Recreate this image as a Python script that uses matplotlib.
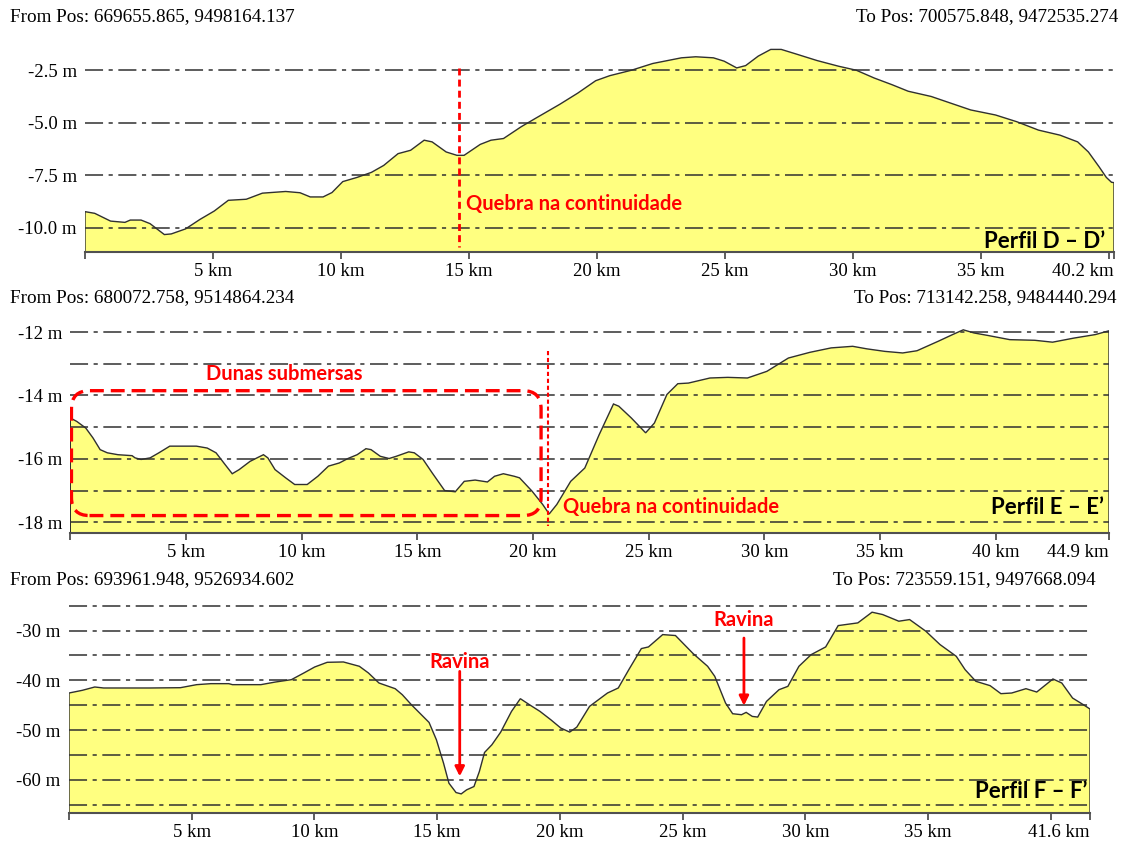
import numpy as np
import matplotlib
matplotlib.use('Agg')
import matplotlib.pyplot as plt
from matplotlib.patches import FancyBboxPatch

plt.rcParams['lines.scale_dashes'] = False

# Perfil D - D'
d_km = [0, 0.38, 1.0, 1.56, 1.77, 2.19, 2.54, 3.1, 3.37, 3.93, 4.49, 5.05, 5.6, 6.3, 6.93,
        7.84, 8.4, 8.8, 9.3, 9.65, 10.07, 10.63, 11.19, 11.67, 12.23, 12.72, 13.25, 13.56,
        14.11, 14.53, 14.81, 15.44, 15.86, 16.35, 17.04, 17.6, 18.55, 19.25, 19.95, 20.5,
        21.35, 22.18, 23.3, 23.86, 24.55, 24.97, 25.46, 25.81, 26.3, 26.79, 27.2, 27.76,
        28.6, 29.44, 30.13, 30.83, 31.53, 32.16, 33.06, 33.9, 34.6, 35.57, 36.4, 37.25,
        38.09, 38.78, 39.2, 39.62, 39.9, 40.1, 40.2]
d_m = [-9.23, -9.31, -9.68, -9.74, -9.63, -9.63, -9.8, -10.32, -10.29, -10.05, -9.6, -9.2,
       -8.69, -8.64, -8.35, -8.27, -8.33, -8.53, -8.53, -8.32, -7.8, -7.6, -7.36, -7.03,
       -6.47, -6.31, -5.83, -5.91, -6.39, -6.55, -6.55, -6.03, -5.83, -5.75, -5.19, -4.79,
       -4.12, -3.59, -3.0, -2.76, -2.5, -2.18, -1.91, -1.86, -1.91, -2.07, -2.39, -2.28,
       -1.83, -1.51, -1.51, -1.72, -2.04, -2.31, -2.5, -2.87, -3.19, -3.5, -3.75, -4.1,
       -4.39, -4.63, -4.95, -5.35, -5.59, -5.91, -6.39, -7.1, -7.6, -7.83, -7.85]

# Perfil E - E'
e_km = [0, 0.28, 0.67, 0.98, 1.29, 1.6, 2.06, 2.67, 2.8, 3.06, 3.45, 3.83, 4.3, 5.45, 5.92,
        6.3, 6.69, 7.0, 7.3, 7.77, 8.07, 8.35, 8.54, 8.85, 9.31, 9.7, 10.24, 10.7, 11.16,
        11.63, 12.0, 12.4, 12.78, 13.0, 13.4, 13.78, 14.09, 14.63, 14.87, 15.25, 15.64,
        16.18, 16.64, 17.03, 17.5, 18.03, 18.34, 18.72, 19.19, 19.42, 19.96, 20.42, 20.7,
        21.03, 21.63, 22.24, 22.86, 23.48, 23.71, 24.25, 24.87, 25.25, 25.79, 26.26, 26.72,
        27.65, 28.42, 29.27, 30.11, 31.04, 31.97, 32.89, 33.82, 34.43, 35.21, 35.98, 36.6,
        37.52, 38.14, 38.6, 39.07, 39.68, 40.61, 41.69, 42.46, 43.39, 44.31, 44.9]
e_m = [-14.71, -14.82, -15.03, -15.34, -15.71, -15.81, -15.87, -15.9, -15.97, -16.02, -15.97,
       -15.81, -15.6, -15.6, -15.66, -15.81, -16.18, -16.47, -16.34, -16.08, -15.97, -15.87,
       -15.97, -16.34, -16.6, -16.81, -16.81, -16.55, -16.23, -16.13, -15.99, -15.87, -15.68,
       -15.71, -15.92, -15.99, -15.92, -15.78, -15.81, -16.02, -16.44, -17.0, -17.04, -16.71,
       -16.67, -16.73, -16.55, -16.47, -16.55, -16.6, -17.02, -17.44, -17.74, -17.44, -16.71,
       -16.29, -15.24, -14.27, -14.34, -14.71, -15.18, -14.87, -13.97, -13.63, -13.61, -13.45,
       -13.43, -13.45, -13.24, -12.82, -12.64, -12.5, -12.45, -12.53, -12.61, -12.66, -12.59,
       -12.29, -12.08, -11.93, -12.03, -12.11, -12.24, -12.26, -12.32, -12.19, -12.08, -11.96]

# Perfil F - F'
f_km = [0, 0.54, 1.05, 1.41, 2.29, 3.3, 4.54, 5.2, 5.78, 6.51, 6.66, 7.82, 8.41, 9.06, 9.57,
        10.01, 10.52, 11.18, 11.83, 12.2, 12.63, 13.29, 13.58, 13.95, 14.67, 14.97, 15.26,
        15.48, 15.77, 15.98, 16.2, 16.5, 16.72, 16.93, 17.23, 17.59, 18.03, 18.39, 18.76,
        19.19, 19.63, 20.04, 20.4, 20.69, 21.21, 21.94, 22.38, 22.81, 23.32, 23.61, 24.19,
        24.71, 25.43, 26.02, 26.31, 26.75, 27.04, 27.4, 27.59, 27.84, 28.06, 28.42, 28.93,
        29.29, 29.74, 30.24, 30.83, 31.34, 32.14, 32.72, 33.15, 33.81, 34.25, 34.91, 35.49,
        36.15, 36.51, 36.95, 37.53, 37.97, 38.41, 38.99, 39.43, 40.09, 40.45, 40.89, 41.33, 41.6]
f_m = [-42.55, -42.01, -41.34, -41.54, -41.54, -41.54, -41.48, -40.87, -40.67, -40.67, -40.87,
       -40.87, -40.34, -39.87, -38.52, -37.32, -36.38, -36.31, -37.18, -38.52, -40.54, -41.68,
       -42.89, -44.9, -48.46, -51.95, -56.64, -60.67, -62.55, -62.82, -62.01, -61.34, -58.32,
       -54.5, -52.95, -50.4, -46.24, -43.69, -44.9, -46.24, -47.92, -49.6, -50.4, -49.4,
       -45.23, -42.55, -41.54, -37.85, -33.62, -33.29, -30.81, -31.0, -34.63, -37.18, -39.19,
       -44.56, -46.71, -46.91, -46.44, -47.25, -47.38, -44.23, -41.88, -41.21, -37.18, -34.83,
       -33.29, -29.0, -28.46, -26.31, -26.78, -28.12, -27.79, -30.13, -32.82, -35.17, -37.85,
       -40.2, -41.07, -42.68, -42.55, -41.68, -42.35, -39.73, -40.54, -43.56, -44.9, -45.77]

panels = [
    dict(km=d_km, m=d_m, end=40.2, ylim=(-11.15, -1.3),
         grid=[-2.5, -5.0, -7.5, -10.0], yticks=[-2.5, -5.0, -7.5, -10.0],
         ylabels=['-2.5 m', '-5.0 m', '-7.5 m', '-10.0 m'], lab40=False,
         box=(85, 45, 1114, 252), title="Perfil D \u2013 D\u2019", tpos=(39.84, -10.63),
         frm="From Pos: 669655.865, 9498164.137", to="To Pos: 700575.848, 9472535.274",
         hy=17, tox=1118),
    dict(km=e_km, m=e_m, end=44.9, ylim=(-18.34, -11.8),
         grid=[-12, -13, -14, -15, -16, -17, -18], yticks=[-12, -14, -16, -18],
         ylabels=['-12 m', '-14 m', '-16 m', '-18 m'], lab40=True,
         box=(70.3, 325.7, 1109, 533), title="Perfil E \u2013 E\u2019", tpos=(44.7, -17.52),
         frm="From Pos: 680072.758, 9514864.234", to="To Pos: 713142.258, 9484440.294",
         hy=298, tox=1117),
    dict(km=f_km, m=f_m, end=41.6, ylim=(-66.6, -24.0),
         grid=[-25, -30, -35, -40, -45, -50, -55, -60, -65], yticks=[-30, -40, -50, -60],
         ylabels=['-30 m', '-40 m', '-50 m', '-60 m'], lab40=False,
         box=(69, 600.7, 1090, 812.7), title="Perfil F \u2013 F\u2019", tpos=(41.5, -62.4),
         frm="From Pos: 693961.948, 9526934.602", to="To Pos: 723559.151, 9497668.094",
         hy=580, tox=1096),
]

W, H = 1121, 843
fig = plt.figure(figsize=(W / 100, H / 100), dpi=100)
serif = 'Liberation Serif'
sans = 'Lato'
axes = []

for p in panels:
    x0, y0, x1, y1 = p['box']
    ax = fig.add_axes([x0 / W, 1 - y1 / H, (x1 - x0) / W, (y1 - y0) / H])
    axes.append(ax)
    ybot = p['ylim'][0]
    xs = np.concatenate([[0], p['km'], [p['end']]])
    ys = np.concatenate([[ybot], p['m'], [ybot]])
    ax.fill(xs, ys, facecolor='#FFFF80', edgecolor='#303030', lw=1.0, zorder=1)
    for g in p['grid']:
        ax.axhline(g, color='#303030', lw=1.1, dashes=(13, 4, 3, 4), zorder=2)
    ax.set_xlim(0, p['end'])
    ax.set_ylim(*p['ylim'])
    for s in ['top', 'right', 'left']:
        ax.spines[s].set_visible(False)
    ax.spines['bottom'].set_color('#505050')
    ax.spines['bottom'].set_linewidth(1.5)
    ax.patch.set_alpha(0)

    ticks = list(range(0, 45, 5))
    ticks = [t for t in ticks if t < p['end']] + [p['end']]
    labels = []
    for t in ticks:
        if t == 0:
            labels.append('')
        elif t == p['end']:
            labels.append(f"{p['end']} km")
        elif t == 40 and not p['lab40']:
            labels.append('')
        else:
            labels.append(f"{t} km")
    ax.set_xticks(ticks)
    ax.set_xticklabels(labels, fontfamily=serif, fontsize=13.5)
    ax.get_xticklabels()[-1].set_horizontalalignment('right')
    ax.tick_params(axis='x', direction='out', length=5, width=1.3, color='#505050', pad=3)
    ax.set_yticks(p['yticks'])
    ax.set_yticklabels(p['ylabels'], fontfamily=serif, fontsize=13.5)
    ax.tick_params(axis='y', length=0, pad=6)

    ax.text(p['tpos'][0], p['tpos'][1], p['title'], ha='right', va='center',
            fontfamily=sans, fontweight='bold', fontsize=16, zorder=5)
    fig.text(10 / W, 1 - p['hy'] / H, p['frm'], ha='left', va='center',
             fontfamily=serif, fontsize=13.8)
    fig.text(p['tox'] / W, 1 - p['hy'] / H, p['to'], ha='right', va='center',
             fontfamily=serif, fontsize=13.8)

red = '#FF0000'

# anotacoes perfil D
ax = axes[0]
ax.plot([14.6, 14.6], [-2.4, -10.9], color=red, lw=2, dashes=(5, 3), zorder=4)
ax.text(14.88, -8.86, 'Quebra na continuidade', color=red, ha='left', va='center',
        fontfamily=sans, fontweight='bold', fontsize=14.5, zorder=5)

# anotacoes perfil E
ax = axes[1]
ax.plot([20.65, 20.65], [-12.6, -18.12], color=red, lw=1.5, dashes=(3, 2), zorder=4)
box = FancyBboxPatch((0.05, -17.79), 20.3, 3.94,
                     boxstyle='round,pad=0,rounding_size=0.78', mutation_aspect=0.73,
                     facecolor='none', edgecolor=red, lw=2.4, linestyle=(0, (10, 5)), zorder=4)
ax.add_patch(box)
ax.text(9.23, -13.32, 'Dunas submersas', color=red, ha='center', va='center',
        fontfamily=sans, fontweight='bold', fontsize=14.5, zorder=5)
ax.text(21.3, -17.53, 'Quebra na continuidade', color=red, ha='left', va='center',
        fontfamily=sans, fontweight='bold', fontsize=14.5, zorder=5)

# anotacoes perfil F
ax = axes[2]
for tx, ty, a0, a1 in [(15.92, -36.4, -38.2, -59.3), (27.5, -27.8, -31.5, -45.1)]:
    ax.text(tx, ty, 'Ravina', color=red, ha='center', va='center',
            fontfamily=sans, fontweight='bold', fontsize=14.5, zorder=5)
    ax.annotate('', xy=(tx, a1), xytext=(tx, a0),
                arrowprops=dict(arrowstyle='-|>', color=red, lw=2, mutation_scale=14,
                                shrinkA=0, shrinkB=0), zorder=5)

fig.savefig('out.png', dpi=100)
